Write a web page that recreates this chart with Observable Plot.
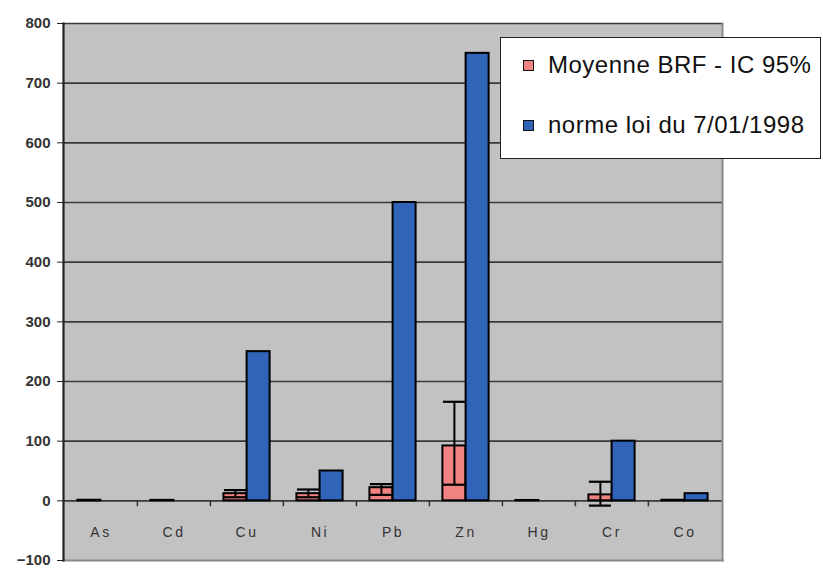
<!DOCTYPE html>
<html>
<head>
<meta charset="utf-8">
<script src="https://cdn.jsdelivr.net/npm/d3@7"></script>
<script src="https://cdn.jsdelivr.net/npm/@observablehq/plot@0.6"></script>
<style>
  html, body { margin: 0; padding: 0; background: #fff; }
  #wrap { position: relative; width: 823px; height: 568px; font-family: Arial, "Liberation Sans", sans-serif; }
  #legend { position: absolute; left: 500px; top: 37px; width: 321px; height: 122px; background: #fff; border: 1.5px solid #222; box-sizing: border-box; }
  .item { position: absolute; left: 22px; height: 28px; display: flex; align-items: center; font-size: 24px; color: #111; letter-spacing: 0.5px; white-space: nowrap; }
  .sw { width: 11px; height: 11px; border: 1.5px solid #111; margin-right: 14px; box-sizing: border-box; }
  #chart svg text.ylab { font-size: 15px !important; font-weight: bold; }
  #chart svg text.clab { font-size: 14px !important; letter-spacing: 2.5px; }
</style>
</head>
<body>
<div id="wrap"><div id="chart"></div><div id="legend"></div></div>
<script>
const categories = ["As", "Cd", "Cu", "Ni", "Pb", "Zn", "Hg", "Cr", "Co"];
const seriesNames = ["Moyenne BRF - IC 95%", "norme loi du 7/01/1998"];
// Moyenne BRF (mean) with 95% CI bounds
const moyenne = [1, 0.8, 12, 12, 22, 92, 0.6, 10, 1];
const icLow   = [null, null, 6, 6, 10, 27, null, -8, null];
const icHigh  = [null, null, 18, 19, 28, 166, null, 32, null];
// norme loi du 7/01/1998
const norme   = [null, null, 250, 50, 500, 750, null, 100, 12];
const yTicks  = [-100, 0, 100, 200, 300, 400, 500, 600, 700, 800];
const colors  = ["#f08282", "#2f64b9"];

const meanRows = categories.map((c, i) => ({cat: c, v: moyenne[i]}));
const normRows = categories.map((c, i) => ({cat: c, v: norme[i]})).filter(d => d.v != null);
const errRows  = categories.map((c, i) => ({cat: c, lo: icLow[i], hi: icHigh[i]})).filter(d => d.lo != null);
const bounds   = categories.slice(1);

const chart = Plot.plot({
  width: 823,
  height: 568,
  marginLeft: 63,
  marginRight: 101,
  marginTop: 23,
  marginBottom: 8,
  style: {background: "transparent", fontFamily: "Arial, 'Liberation Sans', sans-serif"},
  x: {type: "band", domain: categories, paddingInner: 0, paddingOuter: 0, axis: null},
  y: {domain: [-100, 800], axis: null},
  marks: [
    Plot.frame({fill: "#c2c2c2", stroke: null}),
    Plot.ruleY(yTicks.filter(t => t >= 0), {stroke: "#3a3a3a", strokeWidth: 1.6}),
    Plot.frame({anchor: "right", stroke: "#8a8a8a", strokeWidth: 2}),
    Plot.frame({anchor: "bottom", stroke: "#8a8a8a", strokeWidth: 2}),
    // category separator ticks
    Plot.ruleX(bounds, {x: d => d, dx: -36.6, y1: 0, y2: -10, stroke: "#333", strokeWidth: 1.5}),
    // bars
    Plot.barY(meanRows, {x: "cat", y: "v", fill: colors[0], stroke: "#000", strokeWidth: 2, insetLeft: 25, insetRight: 25, dx: -11.6}),
    Plot.barY(normRows, {x: "cat", y: "v", fill: colors[1], stroke: "#000", strokeWidth: 2, insetLeft: 25, insetRight: 25, dx: 11.6}),
    // error bars
    Plot.ruleX(errRows, {x: "cat", y1: "lo", y2: "hi", dx: -11.6, stroke: "#000", strokeWidth: 2}),
    Plot.tickY(errRows, {x: "cat", y: "hi", dx: -11.6, insetLeft: 25.5, insetRight: 25.5, stroke: "#000", strokeWidth: 2.2}),
    Plot.tickY(errRows, {x: "cat", y: "lo", dx: -11.6, insetLeft: 25.5, insetRight: 25.5, stroke: "#000", strokeWidth: 2.2}),
    // category labels inside the plot, below zero
    Plot.text(categories, {x: d => d, frameAnchor: "bottom", dy: -24, text: d => d, fill: "#333"}),
    // y axis
    Plot.axisY(yTicks, {anchor: "left", tickSize: 6, tickPadding: 7, fill: "#333", stroke: "#222"}),
    Plot.frame({anchor: "left", stroke: "#222", strokeWidth: 2.2})
  ]
});
const yLabelSet = new Set(yTicks.map(String).concat(yTicks.map(t => t < 0 ? "\u2212" + Math.abs(t) : String(t))));
chart.querySelectorAll("text").forEach(t => {
  const s = t.textContent.trim();
  if (categories.includes(s)) t.classList.add("clab");
  else if (yLabelSet.has(s)) t.classList.add("ylab");
});
document.getElementById("chart").appendChild(chart);

const legend = document.getElementById("legend");
seriesNames.forEach((name, i) => {
  const item = document.createElement("div");
  item.className = "item";
  item.style.top = (i === 0 ? 13 : 73) + "px";
  const sw = document.createElement("div");
  sw.className = "sw";
  sw.style.background = colors[i];
  item.appendChild(sw);
  const label = document.createElement("span");
  label.textContent = name;
  item.appendChild(label);
  legend.appendChild(item);
});
</script>
</body>
</html>
